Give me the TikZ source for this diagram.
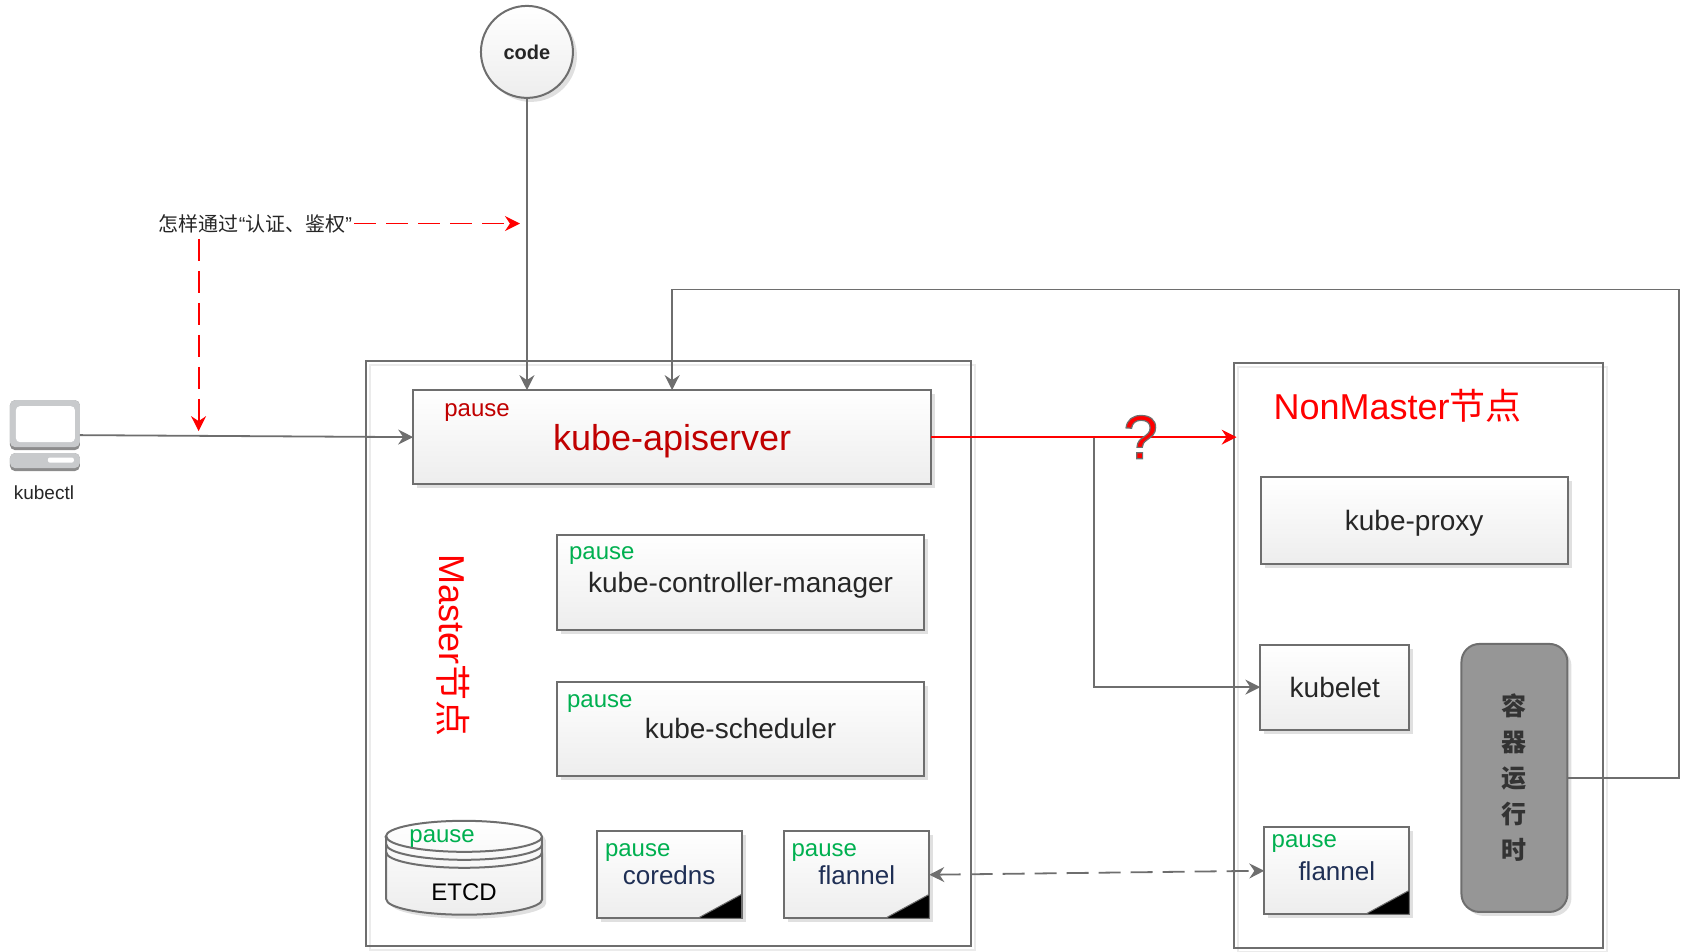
\documentclass[tikz,border=0pt]{standalone}
\usepackage{fontspec}
\setmainfont{Liberation Sans}
\newfontfamily\cjk{Noto Sans CJK SC}
\usetikzlibrary{arrows.meta,shadows}
\definecolor{linegray}{HTML}{6E6E6E}
\definecolor{darkred}{HTML}{C00000}
\definecolor{pausegreen}{HTML}{00B050}
\definecolor{navytext}{HTML}{1F2F55}
\definecolor{pcgray}{HTML}{C8CACC}
\tikzset{
    conn/.style={draw=linegray, line width=1.8pt, -{Stealth[length=15pt, width=15pt, inset=5pt]}},
    redconn/.style={draw=red, line width=1.8pt, -{Stealth[length=15pt, width=15pt, inset=5pt]}},
    gapdash/.style={dash pattern=on 22pt off 10pt},
    frame/.style={draw=linegray, line width=2pt, inner sep=0pt, outer sep=0pt,
        copy shadow={shadow xshift=4pt, shadow yshift=-4pt, draw=black!8, fill=none, opacity=1}},
    compbox/.style={draw=linegray, line width=2pt, inner sep=0pt, outer sep=0pt,
        top color=white, bottom color=black!7, text=black!85,
        drop shadow={shadow xshift=4pt, shadow yshift=-4pt, fill=black!12, opacity=1},
        font=\fontsize{28}{32}\selectfont},
    podbox/.style={compbox, text=navytext, font=\fontsize{26}{30}\selectfont},
    pausetag/.style={text=pausegreen, inner sep=0pt, text depth=0pt, yshift=-1pt, font=\fontsize{24}{28}\selectfont},
    corner/.style={fill=black, draw=linegray, line width=1pt},
    heading/.style={text=red, inner sep=0pt, font=\fontsize{36}{40}\selectfont},
    pcpart/.style={fill=pcgray, rounded corners=5pt},
    pcedge/.style={fill=black!45, rounded corners=5pt}
}
\begin{document}
\begin{tikzpicture}[x=0.998pt, y=-0.998pt]
    \useasboundingbox (0,-1) rectangle (1689.4,952.9);
    \node[frame, minimum width=605pt, minimum height=585pt] (master) at (670,654){};
    \node[frame, minimum width=369pt, minimum height=585pt] (nonmaster) at (1421,656){};

    \node[compbox, circle, minimum size=92pt, font=\fontsize{20}{24}\selectfont\bfseries] (code) at (528,51){code};

    \node[compbox, minimum width=518pt, minimum height=94pt, text=darkred, text depth=0pt, font=\fontsize{36}{40}\selectfont] (apiserver) at (673.5,437){kube-apiserver};
    \node[compbox, minimum width=367pt, minimum height=95pt, text depth=0pt] (controller) at (742,582.5){kube-controller-manager};
    \node[compbox, minimum width=367pt, minimum height=94pt] (scheduler) at (742,729){kube-scheduler};
    \node[podbox, minimum width=145pt, minimum height=87pt] (coredns) at (670.5,875.5){coredns};
    \node[podbox, minimum width=145pt, minimum height=87pt] (flannelm) at (858.5,875.5){flannel};

    \node[compbox, minimum width=307pt, minimum height=87pt, text depth=0pt] (proxy) at (1417,520.5){kube-proxy};
    \node[compbox, minimum width=149pt, minimum height=85pt] (kubelet) at (1337.5,687.5){kubelet};
    \node[podbox, minimum width=145pt, minimum height=87pt] (flanneln) at (1339.5,871.5){\raisebox{-2pt}{flannel}};
    \node[draw=linegray, line width=2pt, fill=black!41, rounded corners=18pt, minimum width=106pt, minimum height=268pt,
        inner sep=0pt, outer sep=0pt, text=black!80, align=center, font=\cjk\fontsize{25}{36}\selectfont\bfseries,
        drop shadow={shadow xshift=4pt, shadow yshift=-4pt, fill=black!12, opacity=1}] (runtime) at (1517.5,778.5){容\\器\\运\\行\\时};

    \foreach \pod in {coredns, flannelm, flanneln}{
        \draw[corner] (\pod.south east) -- ++(-44,0) -- ++(44,-24) -- cycle;
    }

    \draw[top color=white, bottom color=black!7, draw=linegray, line width=2pt,
        drop shadow={shadow xshift=4pt, shadow yshift=-4pt, fill=black!12, opacity=1}]
        (387,837) -- (387,900) arc[start angle=180, end angle=360, x radius=78pt, y radius=15.5pt]
        -- (543,837) arc[start angle=0, end angle=180, x radius=78pt, y radius=15.5pt] -- cycle;
    \draw[draw=linegray, line width=2pt] (387,837) arc[start angle=180, end angle=360, x radius=78pt, y radius=15.5pt];
    \draw[draw=linegray, line width=2pt] (387,845) arc[start angle=180, end angle=360, x radius=78pt, y radius=15.5pt];
    \draw[draw=linegray, line width=2pt] (387,853) arc[start angle=180, end angle=360, x radius=78pt, y radius=15.5pt];
    \node[text=black, inner sep=0pt, font=\fontsize{24}{28}\selectfont] (etcd) at (465,893){ETCD};

    \node[pausetag, text=darkred] (pausea) at (478,409){pause};
    \node[pausetag] (pauseb) at (603,552){pause};
    \node[pausetag] (pausec) at (601,700){pause};
    \node[pausetag] (paused) at (443,836){pause};
    \node[pausetag] (pausee) at (639,850){pause};
    \node[pausetag] (pausef) at (826,850){pause};
    \node[pausetag] (pauseg) at (1307,841){pause};

    \node[heading, rotate=-90] (mastertitle) at (454,646){Master{\cjk 节点}};
    \node[heading, anchor=west] (nonmastertitle) at (1276,406){NonMaster{\cjk 节点}};

    \fill[pcedge] (10,400) rectangle (80,450);
    \fill[pcpart] (10,400) rectangle (80,447);
    \node[fill=white, rounded corners=4pt, inner sep=0pt, outer sep=0pt, minimum width=59pt, minimum height=36pt] (screen) at (45.5,424){};
    \fill[pcedge] (10,453) rectangle (80,471);
    \fill[pcpart] (10,453) rectangle (80,468);
    \node[fill=white, rounded corners=2pt, inner sep=0pt, minimum width=26pt, minimum height=5pt] (slot) at (61,460){};
    \node[text=black!85, inner sep=0pt, font=\fontsize{19}{22}\selectfont] (kubectl) at (44,493){kubectl};
    \coordinate (pcout) at (80,435);

    \node[text=black!85, inner sep=0pt, outer sep=2pt, font=\cjk\fontsize{20}{22}\selectfont] (authnote) at (256,223){怎样通过{\rmfamily “}认证、鉴权{\rmfamily ”}};
    \coordinate (authtip) at (521,223);
    \coordinate (authdown) at (199,431);
    \coordinate (fork) at (1096,437);
    \coordinate (loop) at (1682,289);

    \draw[conn] (code.south) -- (code.south |- apiserver.north);
    \draw[conn] (pcout) -- (apiserver.west);
    \draw[conn] (runtime.east) -| (loop) -| (apiserver.north);
    \draw[conn] (fork) |- (kubelet.west);
    \draw[redconn] (apiserver.east) -- ([xshift=3pt]apiserver.east -| nonmaster.west);
    \draw[redconn, gapdash] (authnote.east) -- (authtip);
    \draw[redconn, gapdash] ([yshift=-4pt]authnote.south -| authdown) -- (authdown);
    \draw[conn, gapdash, {Stealth[length=15pt, width=15pt, inset=5pt]}-{Stealth[length=15pt, width=15pt, inset=5pt]}] (flannelm.east) -- (flanneln.west);

    \node[text=red, inner sep=0pt, font=\fontsize{62}{66}\selectfont] (question) at (1143,437){\special{pdf:code q 2 Tr 1.2 w 0.43 G}?\special{pdf:code Q}};
\end{tikzpicture}
\end{document}
